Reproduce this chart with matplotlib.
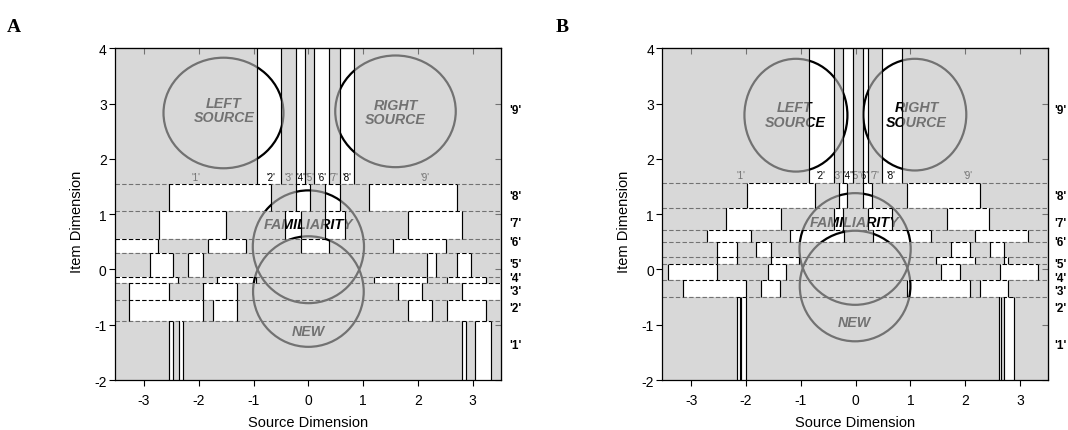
import matplotlib
matplotlib.use("Agg")
import matplotlib.pyplot as plt
import matplotlib.transforms as mtransforms
from matplotlib.patches import Ellipse, PathPatch
from matplotlib.path import Path

plt.rcParams['font.family'] = ['Liberation Sans', 'DejaVu Sans']
plt.rcParams['axes.unicode_minus'] = False

X_LIM = (-3.53, 3.51)
Y_LIM = (-2, 4)

# rating labels down the right side (item) and across the top band (source)
item_labels = ["'1'", "'2'", "'3'", "'4'", "'5'", "'6'", "'7'", "'8'", "'9'"]
item_label_y = [-1.37, -0.70, -0.39, -0.15, 0.10, 0.49, 0.84, 1.33, 2.88]
source_labels = ["'1'", "'2'", "'3'", "'4'", "'5'", "'6'", "'7'", "'8'", "'9'"]

# ---- panel A ----
a_thresholds = [1.55, 1.05, 0.55, 0.30, -0.13, -0.24, -0.56, -0.94]
# white response regions per item band, top band first
a_whites = [
    [(-0.94, -0.50), (-0.23, -0.06), (0.10, 0.38), (0.57, 0.83)],
    [(-2.55, -0.68), (-0.23, 0.03), (0.30, 0.57), (1.10, 2.71)],
    [(-2.73, -1.50), (-0.42, -0.14), (0.30, 0.66), (1.81, 2.80)],
    [(-3.53, -2.74), (-1.84, -1.14), (-0.14, 0.38), (1.55, 2.52)],
    [(-2.90, -2.47), (-2.19, -1.93), (2.17, 2.33), (2.71, 2.96)],
    [(-3.53, -2.38), (-1.66, -0.95), (1.19, 2.16), (2.53, 3.25)],
    [(-3.27, -2.55), (-1.93, -1.31), (1.63, 2.08), (2.80, 3.51)],
    [(-3.27, -1.93), (-1.74, -1.31), (1.81, 2.25), (2.53, 3.25)],
    [(-2.55, -2.47), (-2.37, -2.29), (2.81, 2.88), (3.05, 3.33)],
]
a_source_x = [-2.05, -0.69, -0.35, -0.14, 0.03, 0.24, 0.47, 0.71, 2.13]
a_source_y = 1.67
# (x, y, width, height) of the four distributions
a_circles = [(-1.55, 2.83, 2.19, 2.00), (1.59, 2.86, 2.20, 2.02),
             (0.00, 0.41, 2.03, 2.04), (0.00, -0.40, 2.02, 2.00)]
a_circle_text = [("LEFT\nSOURCE", -1.54, 2.88), ("RIGHT\nSOURCE", 1.59, 2.85),
                 ("FAMILIARITY", 0.00, 0.82), ("NEW", 0.00, -1.12)]

# ---- panel B ----
b_thresholds = [1.56, 1.11, 0.71, 0.49, 0.22, 0.10, -0.19, -0.50]
b_whites = [
    [(-0.85, -0.40), (-0.23, -0.04), (0.13, 0.22), (0.49, 0.85)],
    [(-1.99, -0.75), (-0.31, -0.16), (0.14, 0.29), (0.94, 2.27)],
    [(-2.36, -1.37), (-0.40, -0.23), (0.22, 0.66), (1.66, 2.43)],
    [(-2.71, -1.91), (-1.20, -0.22), (0.31, 1.37), (2.18, 3.15)],
    [(-2.53, -2.17), (-1.81, -1.55), (1.74, 2.09), (2.45, 2.71)],
    [(-2.53, -2.17), (-1.55, -1.03), (1.47, 2.18), (2.71, 2.78)],
    [(-3.43, -2.53), (-1.60, -1.28), (1.56, 1.90), (2.63, 3.33)],
    [(-3.16, -2.01), (-1.72, -1.38), (0.93, 2.09), (2.27, 2.79)],
    [(-2.17, -2.11), (-2.09, -2.01), (2.62, 2.66), (2.71, 2.89)],
]
b_source_x = [-2.10, -0.63, -0.33, -0.14, 0.01, 0.16, 0.35, 0.65, 2.05]
b_source_y = 1.71
b_circles = [(-1.09, 2.79, 1.88, 2.04), (1.08, 2.80, 1.88, 2.02),
             (-0.01, 0.37, 2.03, 2.02), (-0.01, -0.30, 2.02, 2.00)]
b_circle_text = [("LEFT\nSOURCE", -1.11, 2.80), ("RIGHT\nSOURCE", 1.11, 2.80),
                 ("FAMILIARITY", -0.02, 0.86), ("NEW", -0.02, -0.95)]


def draw_panel(ax, thresholds, whites, src_x, src_y, circles, circle_text,
               item_x):
    ax.set_facecolor('white')
    edges = [Y_LIM[1]] + thresholds + [Y_LIM[0]]

    # gray fill everywhere except the white regions; drawn translucent so
    # the black lines and text underneath show through as gray
    verts, codes = [], []
    for k, runs in enumerate(whites):
        top, bot = edges[k], edges[k + 1]
        x = X_LIM[0]
        gaps = []
        for x0, x1 in sorted(runs):
            if x0 > x:
                gaps.append((x, x0))
            x = max(x, x1)
        if x < X_LIM[1]:
            gaps.append((x, X_LIM[1]))
        for g0, g1 in gaps:
            verts += [(g0, bot), (g1, bot), (g1, top), (g0, top), (g0, bot)]
            codes += [Path.MOVETO, Path.LINETO, Path.LINETO, Path.LINETO,
                      Path.CLOSEPOLY]
        for x0, x1 in runs:
            ax.vlines([x0, x1], bot, top, colors='black', lw=0.85, zorder=4)
    ax.add_patch(PathPatch(Path(verts, codes), facecolor='#bfbfbf', alpha=0.6,
                           edgecolor='none', zorder=3))

    ax.hlines(thresholds, X_LIM[0], X_LIM[1], colors='black', lw=0.8,
              linestyles=(0, (4, 2)), zorder=2)

    for cx, cy, w, h in circles:
        ax.add_patch(Ellipse((cx, cy), w, h, fill=False, ec='black', lw=1.6,
                             zorder=2))
    for txt, tx, ty in circle_text:
        ax.text(tx, ty, txt, ha='center', va='center', fontsize=10.3,
                fontweight='bold', style='italic', linespacing=1.05, zorder=2)

    for lab, sx in zip(source_labels, src_x):
        ax.text(sx, src_y, lab, ha='center', va='center', fontsize=7, zorder=2)

    trans = mtransforms.blended_transform_factory(ax.transAxes, ax.transData)
    for lab, iy in zip(item_labels, item_label_y):
        ax.text(item_x, iy, lab, transform=trans, ha='left', va='center',
                fontsize=8.5, fontweight='bold')

    ax.set_xlim(*X_LIM)
    ax.set_ylim(*Y_LIM)
    ax.set_xticks(range(-3, 4))
    ax.set_yticks(range(-2, 5))
    ax.tick_params(direction='out', length=4, width=0.8, labelsize=10)
    ax.tick_params(axis='x', pad=5)
    ax.tick_params(axis='y', pad=2)
    for sp in ax.spines.values():
        sp.set_linewidth(0.9)
        sp.set_zorder(6)

    top = ax.secondary_xaxis('top')
    top.set_xticks(range(-3, 4))
    top.tick_params(direction='in', length=4, width=0.8, labeltop=False)
    right = ax.secondary_yaxis('right')
    right.set_yticks(range(-2, 5))
    right.tick_params(direction='in', length=4, width=0.8, labelright=False)

    ax.set_xlabel('Source Dimension', fontsize=10.5)
    ax.xaxis.set_label_coords(0.5, -0.127)
    ax.xaxis.label.set_va('center')
    ax.set_ylabel('Item Dimension', fontsize=10.5)
    ax.yaxis.set_label_coords(-0.098, 0.48)
    ax.yaxis.label.set_va('center')


fig = plt.figure(figsize=(10.68, 4.31), dpi=100)
ax_a = fig.add_axes([0.1077, 0.1160, 0.3611, 0.7696])
ax_b = fig.add_axes([0.6201, 0.1160, 0.3611, 0.7696])

draw_panel(ax_a, a_thresholds, a_whites, a_source_x, a_source_y,
           a_circles, a_circle_text, 1.022)
draw_panel(ax_b, b_thresholds, b_whites, b_source_x, b_source_y,
           b_circles, b_circle_text, 1.0155)

fig.text(0.0066, 0.926, 'A', fontsize=14, fontweight='bold',
         family=['Liberation Serif', 'DejaVu Serif'], va='baseline')
fig.text(0.5206, 0.926, 'B', fontsize=14, fontweight='bold',
         family=['Liberation Serif', 'DejaVu Serif'], va='baseline')

fig.savefig('out.png', dpi=100)
